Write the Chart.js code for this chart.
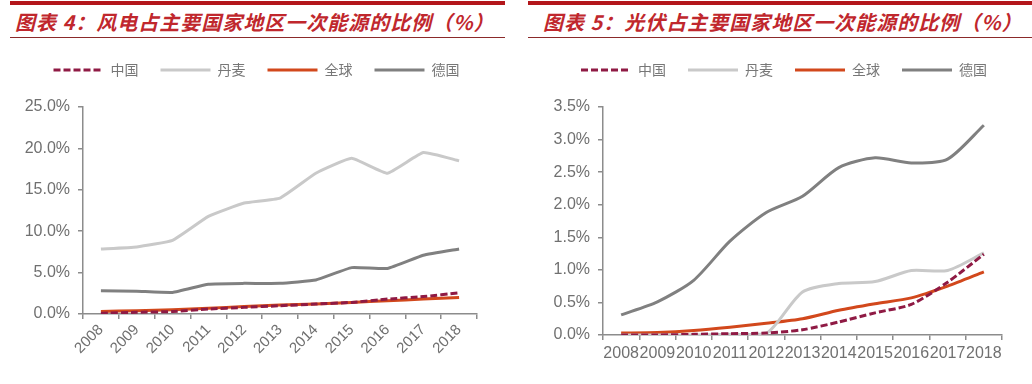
<!DOCTYPE html>
<html>
<head>
<meta charset="utf-8">
<script src="https://cdn.jsdelivr.net/npm/chart.js@4.4.1/dist/chart.umd.min.js"></script>
<style>
  body { margin: 0; background: #fff; width: 1032px; height: 384px; overflow: hidden; position: relative; }
  .bar { position: absolute; top: 1px; height: 4px; background: #b3161b; }
  .rule { position: absolute; top: 37px; height: 1px; background: #8b2a2a; }
  .title { position: absolute; top: 9px; line-height: 26px; font-family: "Noto Sans CJK SC", sans-serif;
           font-weight: bold; font-style: italic; font-size: 20px; letter-spacing: 1px; color: #c0272d; white-space: nowrap; }
  canvas { position: absolute; top: 40px; }
</style>
</head>
<body>
<div class="bar" style="left:10px;width:495px"></div>
<div class="bar" style="left:528px;width:504px"></div>
<div class="rule" style="left:10px;width:495px"></div>
<div class="rule" style="left:528px;width:504px"></div>
<div class="title" style="left:15px">图表 4：风电占主要国家地区一次能源的比例（%）</div>
<div class="title" style="left:543px">图表 5：光伏占主要国家地区一次能源的比例（%）</div>
<canvas id="windChart" width="516" height="344" style="left:0"></canvas>
<canvas id="solarChart" width="516" height="344" style="left:516px"></canvas>
<script>
// categorie e serie (valori in %)
const years = ['2008', '2009', '2010', '2011', '2012', '2013', '2014', '2015', '2016', '2017', '2018'];
const seriesNames = ['中国', '丹麦', '全球', '德国'];

// Grafico 4 - eolico
const windChina   = [0.1, 0.2, 0.3, 0.6, 0.8, 1.0, 1.2, 1.4, 1.8, 2.1, 2.55];
const windDenmark = [7.85, 8.1, 8.9, 11.8, 13.4, 14.0, 17.0, 18.8, 17.0, 19.5, 18.5];
const windGlobal  = [0.3, 0.4, 0.5, 0.7, 0.9, 1.1, 1.2, 1.4, 1.6, 1.8, 2.0];
const windGermany = [2.8, 2.75, 2.6, 3.6, 3.7, 3.7, 4.1, 5.6, 5.5, 7.1, 7.85];

// Grafico 5 - fotovoltaico
const solarChina   = [0.0, 0.0, 0.01, 0.02, 0.03, 0.08, 0.2, 0.34, 0.47, 0.81, 1.24];
const solarDenmark = [0.0, 0.0, 0.0, 0.01, 0.02, 0.66, 0.79, 0.82, 0.99, 0.99, 1.26];
const solarGlobal  = [0.03, 0.04, 0.07, 0.12, 0.18, 0.25, 0.38, 0.48, 0.57, 0.75, 0.97];
const solarGermany = [0.31, 0.51, 0.84, 1.44, 1.88, 2.13, 2.57, 2.72, 2.64, 2.70, 3.22];

const colors = ['#8f1a44', '#c9c9c9', '#d2481c', '#808080'];
const axisColor = '#8c8c8c';
const labelColor = '#707070';

document.addEventListener('DOMContentLoaded', function() {
    buildChart('windChart', [windChina, windDenmark, windGlobal, windGermany], {
        max: 25, step: 5, yWidth: 83, xHeight: 62, bottom: 8, right: 39,
        rotate: 45, xFont: 15, xPad: 2, tension: 0.12, legendShift: 18
    });
    buildChart('solarChart', [solarChina, solarDenmark, solarGlobal, solarGermany], {
        max: 3.5, step: 0.5, yWidth: 87, xHeight: 40, bottom: 9, right: 30,
        rotate: 0, xFont: 16, xPad: 4, tension: 0.25, legendShift: 25
    });
});

// aggiunge spazio sotto la legenda e la sposta in orizzontale
const legendGap = {
    id: 'legendGap',
    beforeInit(chart) {
        const fit = chart.legend.fit;
        chart.legend.fit = function() {
            fit.call(this);
            this.height += 20;
        };
    },
    afterLayout(chart, args, opts) {
        chart.legend.left += opts.shift;
        chart.legend.right += opts.shift;
    }
};

function buildChart(id, data, cfg) {
    const ctx = document.getElementById(id).getContext('2d');
    const datasets = data.map(function(values, i) {
        return {
            label: seriesNames[i],
            data: values,
            borderColor: colors[i],
            backgroundColor: colors[i],
            borderWidth: 3,
            borderDash: i === 0 ? [7, 3] : [],
            pointRadius: 0,
            tension: cfg.tension,
            fill: false
        };
    });

    new Chart(ctx, {
        type: 'line',
        data: { labels: years, datasets: datasets },
        plugins: [legendGap],
        options: {
            responsive: false,
            animation: false,
            layout: { padding: { top: 1, left: 0, right: cfg.right, bottom: cfg.bottom } },
            plugins: {
                tooltip: { enabled: false },
                legendGap: { shift: cfg.legendShift },
                legend: {
                    position: 'top',
                    labels: {
                        usePointStyle: true,
                        pointStyle: 'line',
                        pointStyleWidth: 50,
                        padding: 22,
                        color: '#777',
                        font: { family: '"Noto Sans CJK SC", sans-serif', size: 14 },
                        // tratteggio anche nella legenda
                        generateLabels: function(chart) {
                            const items = Chart.defaults.plugins.legend.labels.generateLabels(chart);
                            items.forEach(function(item) {
                                item.lineDash = chart.data.datasets[item.datasetIndex].borderDash;
                            });
                            return items;
                        }
                    }
                }
            },
            scales: {
                x: {
                    offset: true,
                    grid: { offset: true, drawOnChartArea: false, tickLength: 5, color: axisColor, lineWidth: 1.5 },
                    border: { color: axisColor, width: 1.5 },
                    ticks: {
                        autoSkip: false,
                        minRotation: cfg.rotate,
                        maxRotation: cfg.rotate,
                        padding: cfg.xPad,
                        color: labelColor,
                        font: { family: '"Liberation Sans", Arial, sans-serif', size: cfg.xFont }
                    },
                    afterFit: function(scale) { scale.height = cfg.xHeight; }
                },
                y: {
                    min: 0,
                    max: cfg.max,
                    grid: { drawOnChartArea: false, tickLength: 5, color: axisColor, lineWidth: 1.5 },
                    border: { color: axisColor, width: 1.5 },
                    ticks: {
                        stepSize: cfg.step,
                        padding: 8,
                        color: labelColor,
                        font: { family: '"Liberation Sans", Arial, sans-serif', size: 16 },
                        callback: function(v) { return v.toFixed(1) + '%'; }
                    },
                    afterFit: function(scale) { scale.width = cfg.yWidth; }
                }
            }
        }
    });
}
</script>
</body>
</html>
